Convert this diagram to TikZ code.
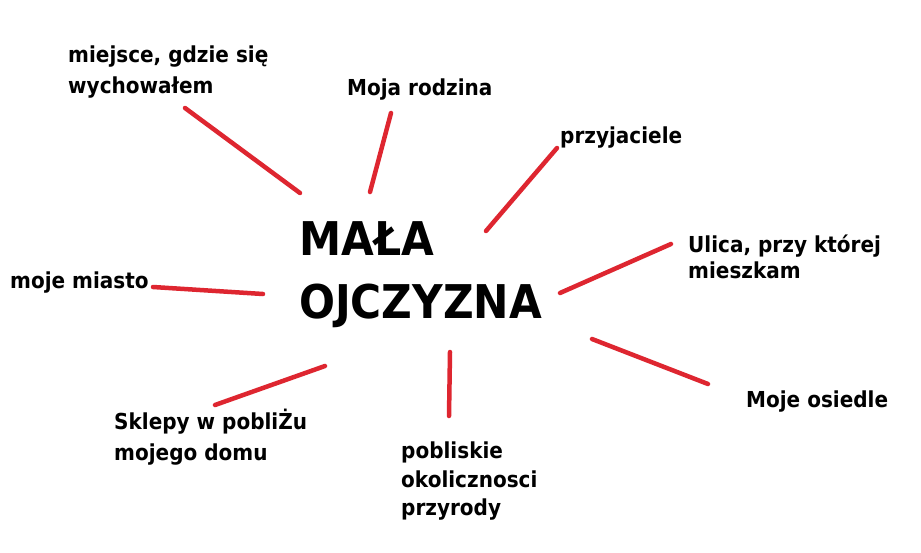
\documentclass[tikz,border=0pt]{standalone}
\usepackage{fontspec}
\setmainfont{DejaVu Sans}[FakeStretch=0.91]
\definecolor{linered}{RGB}{222,38,48}
\tikzset{
  lbl/.style={anchor=base west, inner sep=0pt, font=\bfseries\fontsize{22}{26}\selectfont},
  ttl/.style={anchor=base west, inner sep=0pt, font=\bfseries\fontsize{46.5}{54}\selectfont},
  spoke/.style={draw=linered, line width=4.5pt, line cap=round}
}
\begin{document}
\begin{tikzpicture}[x=1pt,y=-1pt]
\useasboundingbox[fill=white] (0,0) rectangle (921,552);
% title
\node[ttl] (t1) at (299,255) {MAŁA};
\node[ttl] (t2) at (299,318) {OJCZYZNA};
% labels
\node[lbl] (a1) at (68,62) {miejsce, gdzie się};
\node[lbl] (a2) at (68,93) {wychowałem};
\node[lbl] (b1) at (347,95) {Moja rodzina};
\node[lbl] (c1) at (560,143) {przyjaciele};
\node[lbl] (d1) at (688,252) {Ulica, przy której};
\node[lbl] (d2) at (688,278) {mieszkam};
\node[lbl] (e1) at (10,288) {moje miasto};
\node[lbl] (f1) at (746,407) {Moje osiedle};
\node[lbl] (g1) at (114,429) {Sklepy w pobliŻu};
\node[lbl] (g2) at (114,460) {mojego domu};
\node[lbl] (h1) at (401,458) {pobliskie};
\node[lbl] (h2) at (401,487) {okolicznosci};
\node[lbl] (h3) at (401,515) {przyrody};
% spoke end points
\coordinate (pa) at (185,108); \coordinate (qa) at (300,193);
\coordinate (pb) at (391,113); \coordinate (qb) at (370,192);
\coordinate (pc) at (557,148); \coordinate (qc) at (486,231);
\coordinate (pd) at (671,244); \coordinate (qd) at (560,293);
\coordinate (pe) at (153,287); \coordinate (qe) at (263,294);
\coordinate (pf) at (708,384); \coordinate (qf) at (592,339);
\coordinate (pg) at (215,405); \coordinate (qg) at (325,366);
\coordinate (ph) at (449,416); \coordinate (qh) at (450,352);
\draw[spoke] (pa) -- (qa);
\draw[spoke] (pb) -- (qb);
\draw[spoke] (pc) -- (qc);
\draw[spoke] (pd) -- (qd);
\draw[spoke] (pe) -- (qe);
\draw[spoke] (pf) -- (qf);
\draw[spoke] (pg) -- (qg);
\draw[spoke] (ph) -- (qh);
\end{tikzpicture}
\end{document}
